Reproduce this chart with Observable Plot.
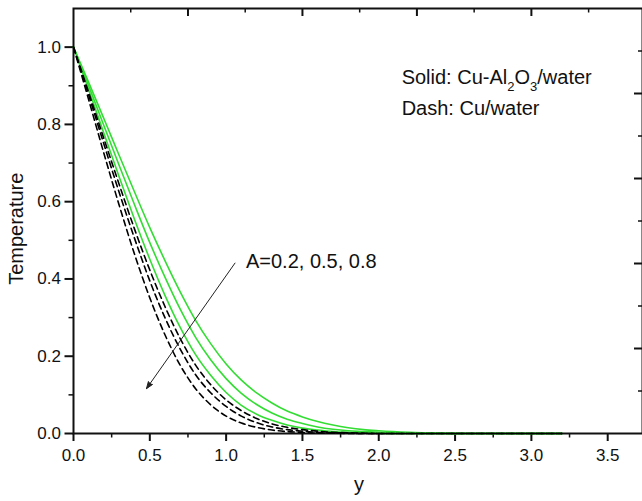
<!DOCTYPE html>
<html><head><meta charset="utf-8">
<script src="https://cdn.jsdelivr.net/npm/d3@7"></script>
<script src="https://cdn.jsdelivr.net/npm/@observablehq/plot@0.6"></script>
<style>
html,body{margin:0;padding:0;background:#fff;}
#chart svg{display:block;}
</style></head><body><div id="chart"></div>
<script>
// position y (x axis)
const yPos = [0,0.1,0.2,0.3,0.4,0.5,0.6,0.7,0.8,0.9,1.0,1.1,1.2,1.3,1.4,1.5,1.6,1.7,1.8,1.9,2.0,2.2,2.4,2.6,2.8,3.0,3.2];
// Solid: Cu-Al2O3/water
const hybrid_A02 = [1,.908,.814,.719,.625,.533,.447,.366,.293,.232,.180,.138,.105,.079,.058,.043,.031,.022,.015,.010,.007,.003,.001,0,0,0,0];
const hybrid_A05 = [1,.899,.796,.693,.592,.494,.404,.321,.249,.190,.142,.104,.075,.053,.037,.026,.017,.011,.007,.005,.003,.001,0,0,0,0,0];
const hybrid_A08 = [1,.889,.776,.663,.554,.451,.357,.274,.204,.150,.106,.073,.050,.034,.022,.014,.009,.005,.003,.002,.001,0,0,0,0,0,0];
// Dash: Cu/water
const cu_A02 = [1,.882,.762,.644,.529,.423,.328,.245,.177,.126,.087,.059,.039,.025,.016,.010,.006,.003,.002,.001,0,0,0,0,0,0,0];
const cu_A05 = [1,.875,.748,.623,.505,.395,.299,.218,.152,.105,.070,.045,.028,.017,.010,.006,.003,.002,.001,0,0,0,0,0,0,0,0];
const cu_A08 = [1,.863,.724,.590,.464,.351,.255,.176,.116,.074,.045,.027,.016,.009,.005,.003,.001,.001,0,0,0,0,0,0,0,0,0];

const xMajorTicks = [0,0.5,1.0,1.5,2.0,2.5,3.0,3.5];
const xMinorTicks = [0.25,0.75,1.25,1.75,2.25,2.75,3.25];
const yMajorTicks = [0,0.2,0.4,0.6,0.8,1.0];
const yMinorTicks = [0.1,0.3,0.5,0.7,0.9];
const topMajorTicks = [0.75,1.5,2.25,3.0];
const topMinorTicks = [0.375,1.125,1.875,2.625,3.375];
const rightMajorTicks = [0.22,0.44,0.66,0.88];
const rightMinorTicks = [0.11,0.33,0.55,0.77,0.99];

const series = [
  {name:"Cu-Al2O3/water A=0.2", values:hybrid_A02, solid:true},
  {name:"Cu-Al2O3/water A=0.5", values:hybrid_A05, solid:true},
  {name:"Cu-Al2O3/water A=0.8", values:hybrid_A08, solid:true},
  {name:"Cu/water A=0.2", values:cu_A02, solid:false},
  {name:"Cu/water A=0.5", values:cu_A05, solid:false},
  {name:"Cu/water A=0.8", values:cu_A08, solid:false}
];
const rows = series.flatMap(s => yPos.map((p,i) => ({pos:p, temp:s.values[i], series:s.name, solid:s.solid})));

const W = 642, H = 501, mL = 73, mR = 0, mT = 8, mB = 68;
const plotW = W - mL - mR, plotH = H - mT - mB;
const green = "#33dd33";
const font = "'Liberation Sans', Arial, sans-serif";

const notes = [
  {text:"Solid: Cu-Al_2O_3/water", x:2.15, y:0.905},
  {text:"Dash: Cu/water", x:2.15, y:0.825},
  {text:"A=0.2, 0.5, 0.8", x:1.13, y:0.429}
];
const arrowSpec = [{x1:1.058, y1:0.441, x2:0.478, y2:0.116}];

const svg = Plot.plot({
  width: W, height: H,
  marginLeft: mL, marginRight: mR, marginTop: mT, marginBottom: mB,
  style: {fontFamily: font, background: "#fff", color: "#111", overflow: "visible"},
  x: {domain: [0, 3.728], label: null},
  y: {domain: [0, 1.1], label: null},
  marks: [
    Plot.axisX(xMajorTicks, {tickSize: 8, tickPadding: 7, tickFormat: d3.format(".1f"), fontSize: 17, strokeWidth: 2, label: null}),
    Plot.axisX(xMinorTicks, {tickSize: 4.5, tickFormat: () => "", strokeWidth: 1.5, label: null}),
    Plot.axisY(yMajorTicks, {tickSize: 8.5, tickPadding: 4, tickFormat: d3.format(".1f"), fontSize: 17, strokeWidth: 2, label: null}),
    Plot.axisY(yMinorTicks, {tickSize: 4.5, tickFormat: () => "", strokeWidth: 1.5, label: null}),
    Plot.tickX(topMajorTicks, {x: d => d, insetBottom: plotH - 8, strokeWidth: 2}),
    Plot.tickX(topMinorTicks, {x: d => d, insetBottom: plotH - 4.5, strokeWidth: 1.5}),
    Plot.tickY(rightMajorTicks, {y: d => d, insetLeft: plotW - 8, strokeWidth: 2}),
    Plot.tickY(rightMinorTicks, {y: d => d, insetLeft: plotW - 4, strokeWidth: 1.5}),
    Plot.frame({stroke: "#111", strokeWidth: 2}),
    Plot.line(rows.filter(d => d.solid), {x: "pos", y: "temp", z: "series", stroke: green, strokeWidth: 1.6, curve: "monotone-x"}),
    Plot.line(rows.filter(d => !d.solid), {x: "pos", y: "temp", z: "series", stroke: "#000", strokeWidth: 1.6, strokeDasharray: "6,4", curve: "monotone-x"}),
    Plot.arrow(arrowSpec, {x1: "x1", y1: "y1", x2: "x2", y2: "y2", stroke: "#222", strokeWidth: 1, headLength: 11, headAngle: 40}),
    Plot.text(notes, {x: "x", y: "y", text: "text", textAnchor: "start", lineAnchor: "bottom", fontSize: 20, fill: "#111"}),
    Plot.text(["Temperature"], {text: d => d, frameAnchor: "left", y: () => 0.53, dx: -57, rotate: -90, textAnchor: "middle", lineAnchor: "middle", fontSize: 20, fill: "#111"}),
    Plot.text(["y"], {text: d => d, x: () => 1.87, frameAnchor: "bottom", dy: 57, textAnchor: "middle", lineAnchor: "bottom", fontSize: 20, fill: "#111"})
  ]
});

d3.select(svg).selectAll('g[aria-label="arrow"] path').attr("fill", "#222");
d3.select(svg).selectAll("text").each(function() {
  const t = this.textContent;
  if (!t.includes("_")) return;
  const parts = t.split(/_(\d)/);
  this.textContent = "";
  parts.forEach((p, i) => {
    if (!p) return;
    const ts = d3.select(this).append("tspan").text(p);
    if (i % 2 === 1) ts.attr("font-size", 13).attr("dy", 7);
    else if (i > 0) ts.attr("dy", -7);
  });
});
document.getElementById("chart").appendChild(svg);
</script></body></html>
